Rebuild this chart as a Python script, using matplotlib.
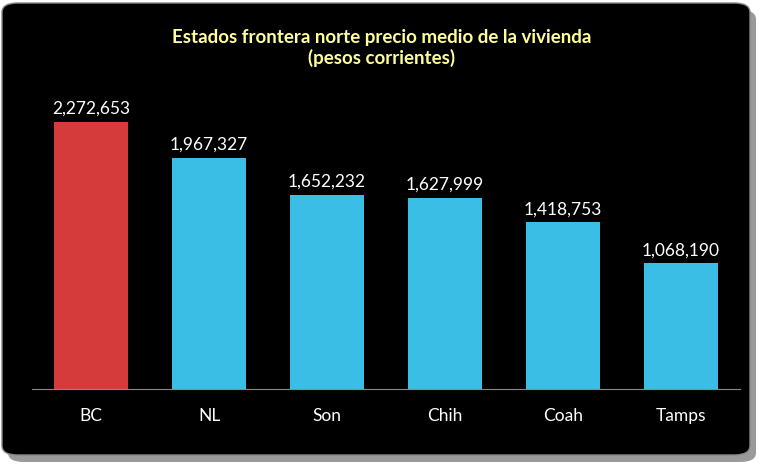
import matplotlib
matplotlib.use("Agg")
import matplotlib.pyplot as plt
from matplotlib.patches import FancyBboxPatch

categories = ["BC", "NL", "Son", "Chih", "Coah", "Tamps"]
values = [2272653, 1967327, 1652232, 1627999, 1418753, 1068190]
colors = ["#D63B3B", "#3BBEE6", "#3BBEE6", "#3BBEE6", "#3BBEE6", "#3BBEE6"]

W, H = 770, 471
fig = plt.figure(figsize=(W/100, H/100), dpi=100, facecolor="white")
fig.patches.append(FancyBboxPatch((8/W, 1-462/H), 748/W, 452/H, boxstyle="round,pad=0,rounding_size=0.02",
                                  transform=fig.transFigure, facecolor="#9a9a9a", edgecolor="none", zorder=-10))
fig.patches.append(FancyBboxPatch((2/W, 1-455/H), 748/W, 452/H, boxstyle="round,pad=0,rounding_size=0.02",
                                  transform=fig.transFigure, facecolor="black", edgecolor="#888888", lw=1, zorder=-9))

ax = fig.add_axes([32/W, 1-389/H, 708/W, 294/H])
ax.set_zorder(5)
ax.set_facecolor("none")
x = range(len(categories))
ax.bar(x, values, width=0.62, color=colors, edgecolor="none")
for i, v in enumerate(values):
    ax.text(i, v + 40000, f"{v:,}", ha="center", va="bottom", color="white", fontsize=12.5, family="Lato")
ax.set_xlim(-0.5, len(categories) - 0.5)
ax.set_ylim(0, 2500000)
ax.set_xticks(list(x))
ax.set_xticklabels(categories, color="white", fontsize=12.5, family="Lato")
ax.tick_params(axis="x", length=0, pad=14)
ax.set_yticks([])
for s in ["top", "right", "left"]:
    ax.spines[s].set_visible(False)
ax.spines["bottom"].set_color("#8a8a8a")

fig.text(382/W, 1-48/H, "Estados frontera norte precio medio de la vivienda\n(pesos corrientes)",
         ha="center", va="center", color="#FFFF99", fontsize=13.5, fontweight="bold", family="Lato", linespacing=1.25)
fig.savefig("out.png", dpi=100, facecolor="white")
